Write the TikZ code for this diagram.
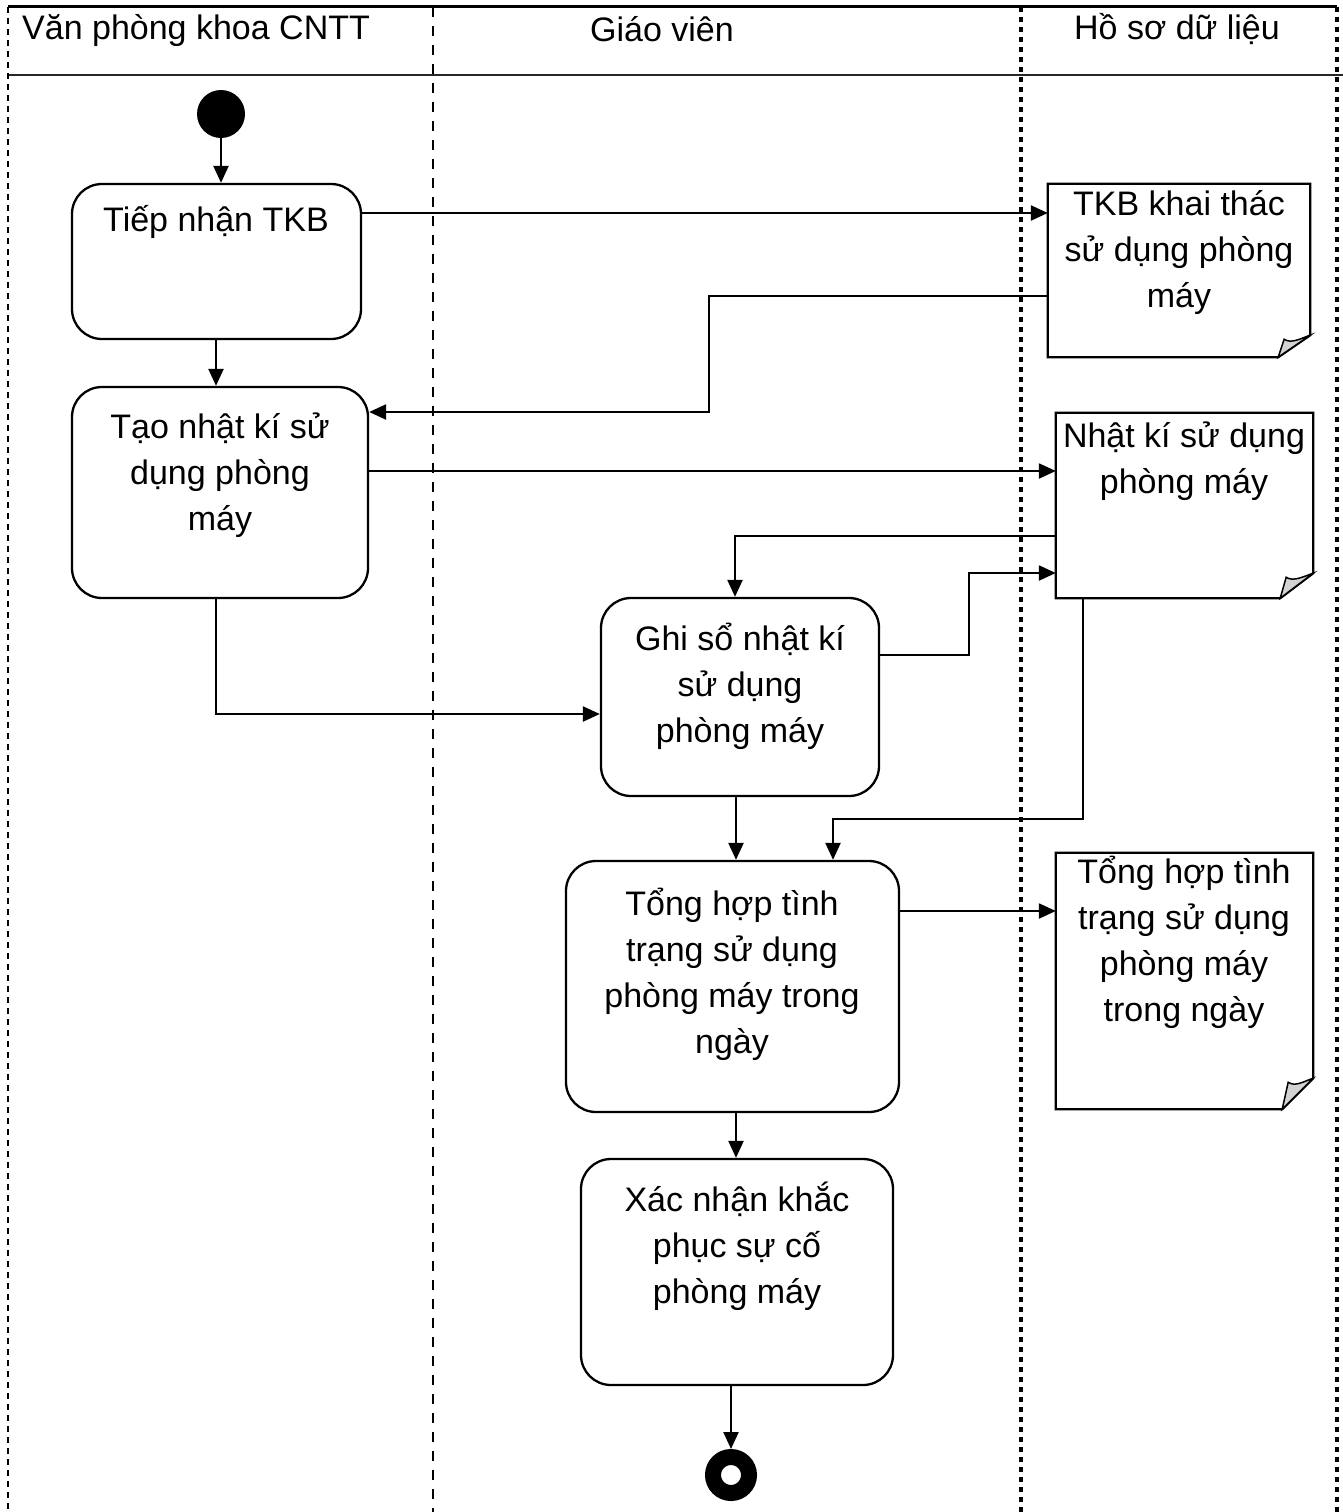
\documentclass[tikz,border=0pt]{standalone}
\usepackage{fontspec}
\setmainfont{Liberation Sans}
\usetikzlibrary{arrows.meta}

\tikzset{
  txt/.style={font=\fontsize{34}{46}\selectfont, align=center, inner sep=0pt},
  activity/.style={draw, line width=2.3pt, rounded corners=30pt, inner sep=0pt},
  docbox/.style={inner sep=0pt},
  docline/.style={line width=2.3pt, line join=miter},
  arr/.style={line width=2.3pt, -{Triangle[length=17pt,width=15pt]}},
  lane/.style={line width=2.8pt}
}

% outline of a document symbol with a curled bottom-right corner
\newcommand\docoutline[3]{%
  \draw[docline] (#1.north west) -- (#1.north east) -- ([yshift=#3]#1.south east)
    -- ([xshift=-#2]#1.south east) -- (#1.south west) -- cycle;
  \filldraw[docline, line width=1.5pt, fill=gray!35]
    ([xshift=-#2]#1.south east) -- ([xshift=-#2+6, yshift=#3-4]#1.south east)
    .. controls ([xshift=-#2+13, yshift=#3-9]#1.south east) and ([xshift=-9, yshift=#3-3]#1.south east)
    .. ([yshift=#3]#1.south east) -- cycle;
}

\begin{document}
\begin{tikzpicture}[x=1pt, y=-1pt]
\useasboundingbox (0,0) rectangle (1343,1512);

% swimlane frame
\draw[lane, line width=3pt] (8,7) -- (1337,7);
\draw[line width=2.6pt, black!85] (8,75) -- (1343,75);
\draw[lane, dash pattern=on 6pt off 5pt] (8,7) -- (8,1512);
\draw[lane, dash pattern=on 10pt off 9pt] (433,7) -- (433,1512);
\draw[lane, line width=3.2pt, dash pattern=on 5pt off 5pt] (1021,7) -- (1021,1512);
\draw[lane, line width=3.2pt, dash pattern=on 5pt off 5pt] (1337,7) -- (1337,1512);

% lane headings
\node[txt, anchor=west] (h1) at (22,30) {Văn phòng khoa CNTT};
\node[txt] (h2) at (662,29) {Giáo viên};
\node[txt] (h3) at (1177,29) {Hồ sơ dữ liệu};

% initial and final nodes
\node[circle, fill=black, minimum size=48pt, inner sep=0pt] (start) at (221,114) {};
\node[circle, draw=black, line width=16pt, minimum size=36pt, inner sep=0pt] (stop) at (731,1475) {};

% activities
\node[activity, minimum width=289pt, minimum height=155pt] (tkb) at (216.5,261.5) {};
\node[activity, minimum width=296pt, minimum height=211pt] (nk) at (220,492.5) {};
\node[activity, minimum width=278pt, minimum height=198pt] (ghi) at (740,697) {};
\node[activity, minimum width=333pt, minimum height=251pt] (th) at (732.5,986.5) {};
\node[activity, minimum width=312pt, minimum height=226pt] (xn) at (737,1272) {};

\node[txt] (tkbt) at (216,222) {Tiếp nhận TKB};
\node[txt] (nkt) at (220,475) {Tạo nhật kí sử\\dụng phòng\\máy};
\node[txt] (ghit) at (740,686) {Ghi sổ nhật kí\\sử dụng\\phòng máy};
\node[txt] (tht) at (732,974) {Tổng hợp tình\\trạng sử dụng\\phòng máy trong\\ngày};
\node[txt] (xnt) at (737,1246) {Xác nhận khắc\\phục sự cố\\phòng máy};

% data documents
\node[docbox, minimum width=262pt, minimum height=173pt] (dtkb) at (1179,270.5) {};
\node[docbox, minimum width=257pt, minimum height=185pt] (dnk) at (1184.5,505.5) {};
\node[docbox, minimum width=257pt, minimum height=256pt] (dth) at (1184.5,981) {};
\docoutline{dtkb}{32}{22}
\docoutline{dnk}{33}{25}
\docoutline{dth}{31}{31}

\node[txt] (dtkbt) at (1179,253) {TKB khai thác\\sử dụng phòng\\máy};
\node[txt] (dnkt) at (1184,461) {Nhật kí sử dụng\\phòng máy};
\node[txt] (dtht) at (1184,942) {Tổng hợp tình\\trạng sử dụng\\phòng máy\\trong ngày};

% control and object flows
\draw[arr] (start) -- (start |- tkb.north);
\draw[arr] ([xshift=-0.5]tkb.south) -- ([xshift=-0.5]tkb.south |- nk.north);
\draw[arr] ([yshift=48.5]tkb.east) -- ([yshift=48.5]tkb.east -| dtkb.west);
\draw[arr] ([yshift=-25.5]dtkb.west) -- ++(-339,0) |- ([yshift=80.5]nk.east);
\draw[arr] ([yshift=21.5]nk.east) -- ([yshift=21.5]nk.east -| dnk.west);
\draw[arr] ([yshift=-30.5]dnk.west) -| ([xshift=-5]ghi.north);
\draw[arr] ([yshift=42]ghi.east) -- ++(89,0) |- ([yshift=-67.5]dnk.west);
\draw[arr] ([xshift=-4]nk.south) |- ([yshift=-17]ghi.west);
\draw[arr] ([xshift=-4]ghi.south) -- ([xshift=-4]ghi.south |- th.north);
\draw[arr] ([xshift=-101.5]dnk.south) |- ([xshift=100.5, yshift=41]th.north) -- ([xshift=100.5]th.north);
\draw[arr] ([yshift=75.5]th.east) -- ([yshift=75.5]th.east -| dth.west);
\draw[arr] ([xshift=3.5]th.south) -- ([xshift=3.5]th.south |- xn.north);
\draw[arr] ([xshift=-6]xn.south) -- (stop.north);
\end{tikzpicture}
\end{document}
